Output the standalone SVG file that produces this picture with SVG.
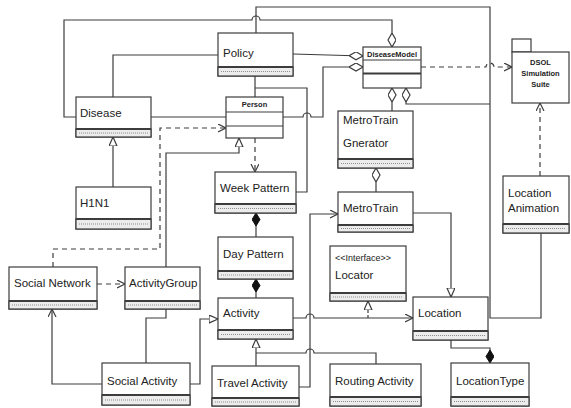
<svg xmlns="http://www.w3.org/2000/svg" width="571" height="408" viewBox="0 0 571 408">
<style>
.box{fill:#fff;stroke:#3c3c3c;stroke-width:1.2}
.attr{fill:#ececec;stroke:#3c3c3c;stroke-width:1.2}
.sep{stroke:#3c3c3c;stroke-width:2}
.dot{stroke:#777;stroke-width:0.8;stroke-dasharray:1 1}
.ln{fill:none;stroke:#3c3c3c;stroke-width:1.2}
.dash{stroke-dasharray:5 4}
.t{font-family:"Liberation Sans",Arial,sans-serif;font-size:11.5px;fill:#222}
.b{font-family:"Liberation Sans",Arial,sans-serif;font-size:7.5px;font-weight:bold;fill:#222}
.s{font-family:"Liberation Sans",Arial,sans-serif;font-size:9px;fill:#222}
</style>
<defs>
<marker id="arr" markerUnits="userSpaceOnUse" markerWidth="10" markerHeight="10" refX="8" refY="4" orient="auto"><path d="M0,0 L8,4 L0,8" fill="none" stroke="#3c3c3c" stroke-width="1.2"/></marker>
<marker id="tri" markerUnits="userSpaceOnUse" markerWidth="12" markerHeight="10" refX="9" refY="4" orient="auto"><path d="M0,0 L9,4 L0,8 Z" fill="#fff" stroke="#3c3c3c" stroke-width="1.2"/></marker>
<marker id="dia" markerUnits="userSpaceOnUse" markerWidth="16" markerHeight="10" refX="14" refY="4" orient="auto"><path d="M0,4 L7,0 L14,4 L7,8 Z" fill="#fff" stroke="#3c3c3c" stroke-width="1.2"/></marker>
<marker id="fdia" markerUnits="userSpaceOnUse" markerWidth="16" markerHeight="10" refX="13" refY="4" orient="auto"><path d="M0,4 L6.5,0 L13,4 L6.5,8 Z" fill="#111" stroke="#111" stroke-width="1"/></marker>
</defs>

<g id="connectors">
<path class="ln" d="M76,117 L64,117 L64,20 L252,20 A4,4 0 0 1 260,20 L392,20 L392,47" marker-end="url(#dia)"/>
<path class="ln" d="M256,33 L256,7 L490,7 L490,318 L541,318 L541,233"/>
<path class="ln" d="M218,55 L113,55 L113,97"/>
<path class="ln" d="M293,54 L363,56" marker-end="url(#dia)"/>
<path class="ln" d="M283,117 L303,117 A4,4 0 0 1 311,117 L323,117 L323,67 L363,67" marker-end="url(#dia)"/>
<path class="ln" d="M255,76 L255,97"/>
<path class="ln" d="M255,88 L307,88 L307,192 L296,192"/>
<path class="ln" d="M151,117 L226,117"/>
<path class="ln dash" d="M53,267 L53,249 L160,249 L160,128 L226,128" marker-end="url(#arr)"/>
<path class="ln" d="M166,267 L166,153 L239,153 L239,138" marker-end="url(#tri)"/>
<path class="ln dash" d="M255,138 L255,172" marker-end="url(#arr)"/>
<path class="ln" d="M256,237 L256,213" marker-end="url(#fdia)"/>
<path class="ln" d="M256,298 L256,279" marker-end="url(#fdia)"/>
<path class="ln dash" d="M97,284 L125,284" marker-end="url(#arr)"/>
<path class="ln" d="M166,309 L166,318 L146,318 L146,363"/>
<path class="ln" d="M102,384 L52,384 L52,309" marker-end="url(#arr)"/>
<path class="ln" d="M190,384 L200,384 L200,319 L218,319" marker-end="url(#tri)"/>
<path class="ln" d="M256,366 L256,339" marker-end="url(#tri)"/>
<path class="ln" d="M256,353 L306,353 A4,4 0 0 1 314,353 L376,353 L376,364"/>
<path class="ln" d="M299,387 L310,387 L310,214 L338,214" marker-end="url(#arr)"/>
<path class="ln" d="M293,318 L306,318 A4,4 0 0 1 314,318 L413,318" marker-end="url(#arr)"/>
<path class="ln" d="M368,318 L368,301" stroke-dasharray="3 2" marker-end="url(#tri)"/>
<path class="ln" d="M413,213 L451,213 L451,297" marker-end="url(#tri)"/>
<path class="ln" d="M376,192 L376,168" marker-end="url(#dia)"/>
<path class="ln" d="M392,111 L392,88" marker-end="url(#dia)"/>
<path class="ln" d="M490,104 L406,104 L406,88" marker-end="url(#dia)"/>
<path class="ln dash" d="M421,67 L486,67 A4,4 0 0 1 494,67 L512,67" marker-end="url(#arr)"/>
<path class="ln dash" d="M540,176 L540,103" marker-end="url(#arr)"/>
<path class="ln" d="M451,340 L451,348 L490,348 L490,363" marker-end="url(#fdia)"/>
<path class="ln" d="M113,187 L113,137" marker-end="url(#tri)"/>
</g>

<g id="policy"><rect class="box" x="218" y="33" width="75" height="43"/><rect class="attr" x="218" y="67" width="75" height="9"/><line class="sep" x1="218" y1="67" x2="293" y2="67"/><line class="dot" x1="221" y1="71.5" x2="290" y2="71.5"/><text class="t" x="223" y="57">Policy</text></g>
<g id="disease"><rect class="box" x="76" y="97" width="75" height="40"/><rect class="attr" x="76" y="129" width="75" height="8"/><line class="sep" x1="76" y1="129" x2="151" y2="129"/><line class="dot" x1="79" y1="133" x2="148" y2="133"/><text class="t" x="80" y="117">Disease</text></g>
<g id="h1n1"><rect class="box" x="76" y="187" width="75" height="42"/><rect class="attr" x="76" y="219" width="75" height="10"/><line class="sep" x1="76" y1="219" x2="151" y2="219"/><line class="dot" x1="79" y1="224" x2="148" y2="224"/><text class="t" x="80" y="207">H1N1</text></g>
<g id="person"><rect class="box" x="226" y="97" width="57" height="41"/><line class="box" x1="226" y1="112" x2="283" y2="112"/><line class="box" x1="226" y1="126" x2="283" y2="126"/><text class="b" x="254.5" y="107" text-anchor="middle">Person</text></g>
<g id="diseasemodel"><rect class="box" x="363" y="47" width="58" height="41"/><line class="box" x1="363" y1="60" x2="421" y2="60"/><line class="sep" x1="363" y1="73.5" x2="421" y2="73.5"/><text class="b" x="392" y="57" text-anchor="middle">DiseaseModel</text></g>
<g id="dsol"><rect class="box" x="512" y="39" width="19" height="13"/><rect class="box" x="512" y="52" width="57" height="51"/><text class="b" x="540.5" y="65" text-anchor="middle">DSOL</text><text class="b" x="540.5" y="76" text-anchor="middle">Simulation</text><text class="b" x="540.5" y="87" text-anchor="middle">Suite</text></g>
<g id="metrotraingnerator"><rect class="box" x="338" y="111" width="75" height="57"/><rect class="attr" x="338" y="159" width="75" height="9"/><line class="sep" x1="338" y1="159" x2="413" y2="159"/><line class="dot" x1="341" y1="163.5" x2="410" y2="163.5"/><text class="t" x="343" y="124">MetroTrain</text><text class="t" x="343" y="147">Gnerator</text></g>
<g id="metrotrain"><rect class="box" x="338" y="192" width="75" height="40"/><rect class="attr" x="338" y="225" width="75" height="7"/><line class="sep" x1="338" y1="225" x2="413" y2="225"/><line class="dot" x1="341" y1="228.5" x2="410" y2="228.5"/><text class="t" x="343" y="212">MetroTrain</text></g>
<g id="locator"><rect class="box" x="330" y="246" width="76" height="55"/><rect class="attr" x="330" y="293" width="76" height="8"/><line class="sep" x1="330" y1="293" x2="406" y2="293"/><line class="dot" x1="333" y1="297" x2="403" y2="297"/><text class="s" x="335" y="261">&lt;&lt;Interface&gt;&gt;</text><text class="t" x="335" y="279">Locator</text></g>
<g id="location"><rect class="box" x="413" y="297" width="75" height="43"/><rect class="attr" x="413" y="331" width="75" height="9"/><line class="sep" x1="413" y1="331" x2="488" y2="331"/><line class="dot" x1="416" y1="335.5" x2="485" y2="335.5"/><text class="t" x="418" y="317">Location</text></g>
<g id="locationtype"><rect class="box" x="451" y="363" width="78" height="43"/><rect class="attr" x="451" y="397" width="78" height="9"/><line class="sep" x1="451" y1="397" x2="529" y2="397"/><line class="dot" x1="454" y1="401.5" x2="526" y2="401.5"/><text class="t" x="456" y="385">LocationType</text></g>
<g id="routingactivity"><rect class="box" x="330" y="364" width="91" height="42"/><rect class="attr" x="330" y="397" width="91" height="9"/><line class="sep" x1="330" y1="397" x2="421" y2="397"/><line class="dot" x1="333" y1="401.5" x2="418" y2="401.5"/><text class="t" x="335" y="385">Routing Activity</text></g>
<g id="travelactivity"><rect class="box" x="212" y="366" width="87" height="40"/><rect class="attr" x="212" y="398" width="87" height="8"/><line class="sep" x1="212" y1="398" x2="299" y2="398"/><line class="dot" x1="215" y1="402" x2="296" y2="402"/><text class="t" x="217" y="387">Travel Activity</text></g>
<g id="activity"><rect class="box" x="218" y="298" width="75" height="41"/><rect class="attr" x="218" y="330" width="75" height="9"/><line class="sep" x1="218" y1="330" x2="293" y2="330"/><line class="dot" x1="221" y1="334.5" x2="290" y2="334.5"/><text class="t" x="223" y="317">Activity</text></g>
<g id="daypattern"><rect class="box" x="218" y="237" width="75" height="42"/><rect class="attr" x="218" y="271" width="75" height="8"/><line class="sep" x1="218" y1="271" x2="293" y2="271"/><line class="dot" x1="221" y1="275" x2="290" y2="275"/><text class="t" x="223" y="258">Day Pattern</text></g>
<g id="weekpattern"><rect class="box" x="215" y="172" width="81" height="41"/><rect class="attr" x="215" y="204" width="81" height="9"/><line class="sep" x1="215" y1="204" x2="296" y2="204"/><line class="dot" x1="218" y1="208.5" x2="293" y2="208.5"/><text class="t" x="220" y="192">Week Pattern</text></g>
<g id="socialnetwork"><rect class="box" x="9" y="267" width="88" height="42"/><rect class="attr" x="9" y="301" width="88" height="8"/><line class="sep" x1="9" y1="301" x2="97" y2="301"/><line class="dot" x1="12" y1="305" x2="94" y2="305"/><text class="t" x="14" y="287">Social Network</text></g>
<g id="activitygroup"><rect class="box" x="125" y="267" width="75" height="42"/><rect class="attr" x="125" y="301" width="75" height="8"/><line class="sep" x1="125" y1="301" x2="200" y2="301"/><line class="dot" x1="128" y1="305" x2="197" y2="305"/><text class="t" x="129" y="287">ActivityGroup</text></g>
<g id="socialactivity"><rect class="box" x="102" y="363" width="88" height="42"/><rect class="attr" x="102" y="395" width="88" height="10"/><line class="sep" x1="102" y1="395" x2="190" y2="395"/><line class="dot" x1="105" y1="400" x2="187" y2="400"/><text class="t" x="107" y="385">Social Activity</text></g>
<g id="locationanimation"><rect class="box" x="503" y="176" width="66" height="57"/><rect class="attr" x="503" y="224" width="66" height="9"/><line class="sep" x1="503" y1="224" x2="569" y2="224"/><line class="dot" x1="506" y1="228.5" x2="566" y2="228.5"/><text class="t" x="508" y="197">Location</text><text class="t" x="508" y="212">Animation</text></g>
</svg>
